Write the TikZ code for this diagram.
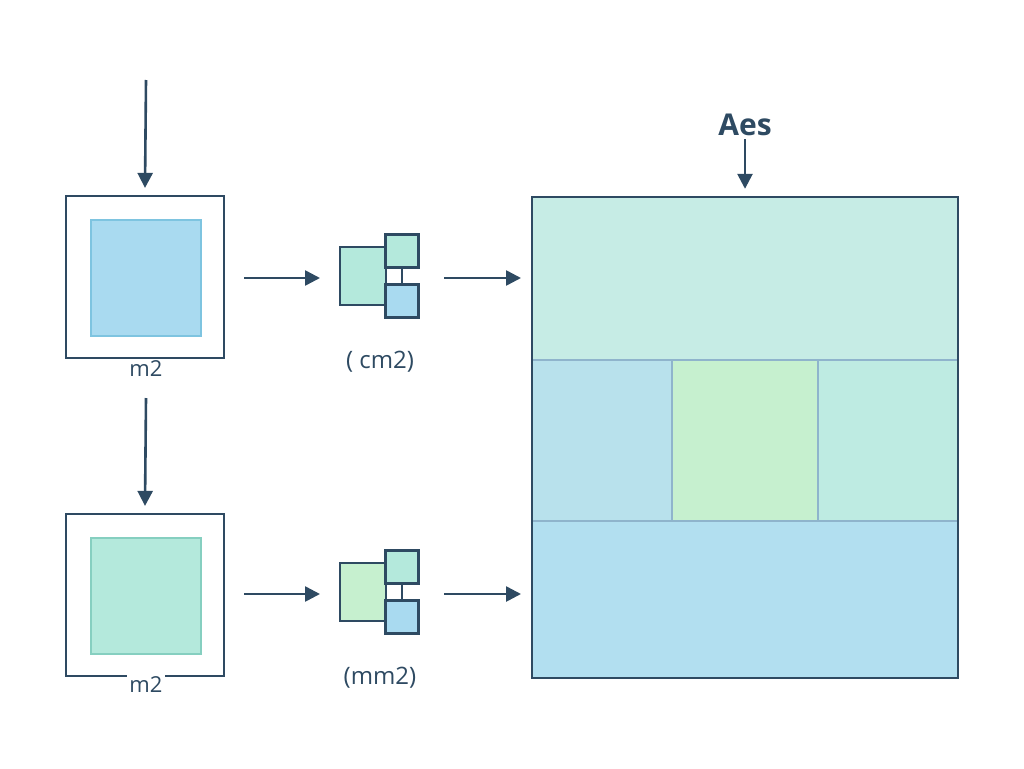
\documentclass[tikz,border=0pt]{standalone}
\usepackage{fontspec}
\setmainfont{Open Sans}
\usetikzlibrary{arrows.meta}
\definecolor{dk}{HTML}{2E4A62}
\definecolor{bl}{HTML}{A9DAF0}
\definecolor{blb}{HTML}{7EC4E0}
\definecolor{mt}{HTML}{B4E9DC}
\definecolor{mtb}{HTML}{86CFC0}
\definecolor{gr}{HTML}{C6F0CF}
\definecolor{rtop}{HTML}{C6ECE5}
\definecolor{rml}{HTML}{B8E1EC}
\definecolor{rmr}{HTML}{BEEBE2}
\definecolor{rbot}{HTML}{B2DFF0}
\definecolor{sep}{HTML}{8FB4CC}
\begin{document}
\begin{tikzpicture}[x=1pt,y=-1pt,
 arr/.style={dk,line width=2.6pt,-{Triangle[length=15pt,width=15pt]}},
 outer/.style={draw=dk,line width=2.2pt,fill=white},
 lbl/.style={fill=white,inner sep=2pt,text=dk,font=\fontsize{22}{22}\selectfont},
 ic/.style={draw=dk,line width=2.2pt},
 cell/.style={draw=sep,line width=1.8pt,inner sep=0}]
\useasboundingbox (0,0) rectangle (1024,768);
% column 1
\coordinate (t1) at (146,80);
\node[outer,minimum width=158pt,minimum height=162pt,inner sep=0] (b1) at (145,277) {};
\node[draw=blb,line width=2.5pt,fill=bl,minimum width=110pt,minimum height=116pt] (i1) at (146,278) {};
\node[lbl] (l1) at (146,369) {m2};
\draw[arr] (t1) -- ([yshift=7pt]b1.north);
\coordinate (t2) at (146,398);
\node[outer,minimum width=158pt,minimum height=162pt,inner sep=0] (b2) at (145,595) {};
\node[draw=mtb,line width=2.5pt,fill=mt,minimum width=110pt,minimum height=116pt] (i2) at (146,596) {};
\node[lbl] (l2) at (146,685) {m2};
\draw[arr] (t2) -- ([yshift=7pt]b2.north);
% icons
\foreach \y/\c/\n/\t in {0/mt/a/{( cm2)},316/gr/b/{(mm2)}}{
 \begin{scope}[yshift=-\y pt]
 \node[ic,fill=\c,minimum width=46pt,minimum height=58pt,inner sep=0] (big\n) at (363,276) {};
 \node[ic,fill=mt,minimum width=33pt,minimum height=33pt,inner sep=0] (st\n) at (402,251) {};
 \node[ic,fill=bl,minimum width=33pt,minimum height=33pt,inner sep=0] (sb\n) at (402,301) {};
 \draw[ic] (st\n.south) -- (sb\n.north);
 \node[text=dk,font=\fontsize{24}{24}\selectfont] (t\n) at (380,362) {\t};
 \end{scope}}
% big grid
\node[cell,fill=rtop,minimum width=426pt,minimum height=163pt] (top) at (745,278.5) {};
\node[cell,fill=rml,minimum width=140pt,minimum height=161pt] (ml) at (602,440.5) {};
\node[cell,fill=gr,minimum width=146pt,minimum height=161pt] (mc) at (745,440.5) {};
\node[cell,fill=rmr,minimum width=140pt,minimum height=161pt] (mr) at (888,440.5) {};
\node[cell,fill=rbot,minimum width=426pt,minimum height=157pt] (bot) at (745,599.5) {};
\node[draw=dk,line width=2.4pt,minimum width=426pt,minimum height=481pt,inner sep=0] (frame) at (745,437.5) {};
\node[text=dk,font=\fontsize{30}{30}\selectfont\bfseries] (aes) at (745,125) {Aes};
\draw[arr] (aes.south) -- ([yshift=7pt]frame.north);
% horizontal arrows
\coordinate (s1) at (244,278);
\coordinate (s2) at (244,594);
\coordinate (s3) at (444,278);
\coordinate (s4) at (444,594);
\coordinate (e1) at (320,278);
\coordinate (e2) at (320,594);
\coordinate (e3) at (521,278);
\coordinate (e4) at (521,594);
\draw[arr] (s1) -- (e1);
\draw[arr] (s2) -- (e2);
\draw[arr] (s3) -- (e3);
\draw[arr] (s4) -- (e4);
\end{tikzpicture}
\end{document}
